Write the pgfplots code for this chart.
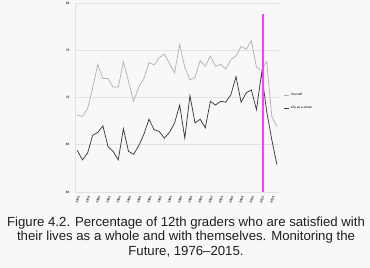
\documentclass[border=0pt]{standalone}
\usepackage{pgfplots}
\pgfplotsset{compat=1.18}
\usepackage{fontspec}
\setmainfont{Liberation Sans}
\definecolor{bgc}{HTML}{F8F8F8}
\definecolor{selfc}{HTML}{B4B4B4}
\definecolor{lifec}{HTML}{3C3C3C}
\definecolor{pinkc}{HTML}{FF3CFF}
\definecolor{gridc}{HTML}{E2E2E2}
\pgfplotstableread{
year yourself life
1976 68.15 64.4
1977 68.0 63.4
1978 68.8 64.1
1979 71.0 66.0
1980 73.5 66.3
1981 72.0 67.0
1982 72.0 64.8
1983 71.1 64.3
1984 71.1 63.4
1985 73.8 66.7
1986 71.7 64.3
1987 69.6 64.0
1988 71.1 64.9
1989 72.0 66.1
1990 73.7 67.7
1991 73.45 66.6
1992 74.2 66.4
1993 74.6 65.7
1994 73.6 66.3
1995 72.6 67.3
1996 75.6 69.2
1997 73.2 65.7
1998 71.85 70.2
1999 72.15 67.3
2000 73.9 67.7
2001 73.3 66.8
2002 74.4 69.6
2003 73.3 69.2
2004 73.5 69.6
2005 73.0 69.5
2006 74.0 70.3
2007 74.4 72.2
2008 75.4 69.5
2009 75.1 70.5
2010 76.0 70.8
2011 73.2 68.7
2012 72.9 72.6
2013 73.8 68.5
2014 68.0 65.5
2015 66.9 62.9
}\datatable
\begin{document}
\begin{tikzpicture}
\fill[bgc] (0,0) rectangle (370pt,268pt);
\useasboundingbox (0,0) rectangle (370pt,268pt);
\begin{axis}[
  at={(75pt,76pt)}, anchor=south west,
  scale only axis, width=204pt, height=189pt,
  xmin=1975.55, xmax=2015.4, ymin=60, ymax=80,
  axis x line=bottom, axis y line=left,
  axis line style={-, gridc, line width=0.6pt},
  ymajorgrids, grid style={gridc, line width=0.6pt},
  major tick length=0pt,
  ytick={60,65,70,75,80},
  xtick={1976,1978,...,2014},
  /pgf/number format/1000 sep={},
  /pgf/number format/assume math mode=true,
  tick label style={font=\fontsize{3.2}{3.6}\selectfont\bfseries, text=black!80},
  yticklabel style={xshift=-2pt},
  xticklabel style={rotate=70, anchor=east, yshift=-3pt},
  legend style={at={(rel axis cs:1.02,0.535)}, anchor=north west, draw=none, fill=none,
    font=\fontsize{3.2}{4}\selectfont, row sep=5pt, inner sep=0pt},
  legend cell align=left,
  legend image code/.code={\draw[#1, line width=0.6pt] (0pt,0pt)--(5pt,0pt);},
  clip=false,
]
\addplot[selfc, line width=0.75pt] table[x=year, y=yourself] {\datatable};
\addlegendentry{Yourself}
\addplot[lifec, line width=0.75pt] table[x=year, y=life] {\datatable};
\addlegendentry{Life as a whole}
\addplot[pinkc, line width=1.4pt, forget plot] coordinates {(2012.27,60) (2012.27,78.84)};
\end{axis}
\node[align=center, font=\fontsize{13.2}{14.5}\selectfont, text=black!88] at (186pt,31pt)
 {Figure 4.2. Percentage of 12th graders who are satisfied with\\
  their lives as a whole and with themselves. Monitoring the\\
  Future, 1976--2015.};
\end{tikzpicture}
\end{document}
